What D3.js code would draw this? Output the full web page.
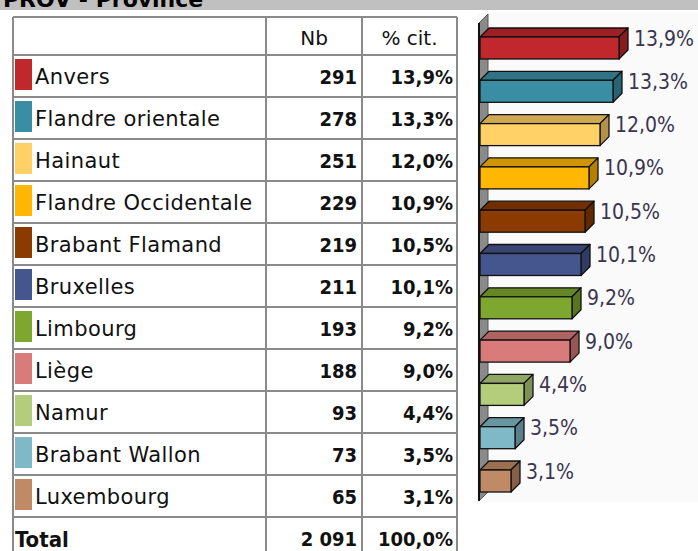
<!DOCTYPE html>
<html><head><meta charset="utf-8">
<script src="https://cdn.jsdelivr.net/npm/d3@7"></script>
<style>body{margin:0;background:#fff;}svg{display:block;}</style>
</head><body>
<script>
const title = "PROV - Province";
const categories = ["Anvers","Flandre orientale","Hainaut","Flandre Occidentale","Brabant Flamand","Bruxelles","Limbourg","Liège","Namur","Brabant Wallon","Luxembourg"];
const counts = [291,278,251,229,219,211,193,188,93,73,65];
const percents = [13.9,13.3,12.0,10.9,10.5,10.1,9.2,9.0,4.4,3.5,3.1];
const colors = ["#c1282d","#3a8ea3","#ffd166","#ffb703","#8b3a00","#45568e","#7da72e","#d97b7b","#b3cd7c","#7fb8c7","#c08a66"];
const headers = ["", "Nb", "% cit."];
const totalLabel = "Total", totalCount = "2 091", totalPct = "100,0%";

const W = 698, H = 551;
const svg = d3.select("body").append("svg").attr("width", W).attr("height", H);
const fmtPct = v => v.toFixed(1).replace(".", ",") + "%";

// title band
svg.append("rect").attr("x",0).attr("y",0).attr("width",W).attr("height",10).attr("fill","#c0c0c0");
svg.append("defs").append("clipPath").attr("id","tb").append("rect").attr("x",0).attr("y",0).attr("width",W).attr("height",10);
svg.append("text").attr("clip-path","url(#tb)").attr("x",3).attr("y",7)
  .attr("font-family","DejaVu Sans").attr("font-weight","bold").attr("font-size",22).attr("fill","#000").text(title);

// ---- table ----
const colX = [13, 266, 362, 457];
const rowY = d3.scaleLinear().domain([0,1]).range([55, 97]); // row i top
const headerTop = 17;
const nRows = categories.length;
const tableBottom = 560;
const lineColor = "#8a8a8a";
const tbl = svg.append("g");

tbl.append("text").attr("x",(colX[1]+colX[2])/2).attr("y",38).attr("dy","0.35em").attr("text-anchor","middle")
  .attr("font-family","DejaVu Sans").attr("font-size",20).attr("fill","#111").text(headers[1]);
tbl.append("text").attr("x",(colX[2]+colX[3])/2).attr("y",38).attr("dy","0.35em").attr("text-anchor","middle")
  .attr("font-family","DejaVu Sans").attr("font-size",20).attr("fill","#111").text(headers[2]);

const rows = tbl.selectAll("g.row").data(categories).join("g").attr("class","row")
  .attr("transform",(d,i)=>`translate(0,${rowY(i)})`);
rows.append("rect").attr("x",15).attr("y",4).attr("width",17).attr("height",31)
  .attr("fill",(d,i)=>colors[i]);
rows.append("text").attr("x",35).attr("y",22).attr("dy","0.35em")
  .attr("font-family","DejaVu Sans").attr("font-size",21).attr("letter-spacing",0.4).attr("fill","#111").text(d=>d);
rows.append("text").attr("x",357).attr("y",22).attr("dy","0.35em").attr("text-anchor","end")
  .attr("font-family","DejaVu Sans Condensed").attr("font-weight","bold").attr("font-size",20).attr("fill","#111").text((d,i)=>counts[i]);
rows.append("text").attr("x",453).attr("y",22).attr("dy","0.35em").attr("text-anchor","end")
  .attr("font-family","DejaVu Sans Condensed").attr("font-weight","bold").attr("font-size",20).attr("fill","#111").text((d,i)=>fmtPct(percents[i]));

const tY = rowY(nRows) + 22;
tbl.append("text").attr("x",15).attr("y",tY).attr("dy","0.35em")
  .attr("font-family","DejaVu Sans Condensed").attr("font-weight","bold").attr("font-size",22).attr("fill","#111").text(totalLabel);
tbl.append("text").attr("x",357).attr("y",tY).attr("dy","0.35em").attr("text-anchor","end")
  .attr("font-family","DejaVu Sans Condensed").attr("font-weight","bold").attr("font-size",20).attr("fill","#111").text(totalCount);
tbl.append("text").attr("x",453).attr("y",tY).attr("dy","0.35em").attr("text-anchor","end")
  .attr("font-family","DejaVu Sans Condensed").attr("font-weight","bold").attr("font-size",20).attr("fill","#111").text(totalPct);

const hl = [headerTop].concat(d3.range(nRows+1).map(i=>rowY(i)));
tbl.selectAll("line.h").data(hl).join("line").attr("class","h")
  .attr("x1",colX[0]).attr("x2",colX[3]).attr("y1",d=>d).attr("y2",d=>d)
  .attr("stroke",lineColor).attr("stroke-width",2);
tbl.selectAll("line.v").data(colX).join("line").attr("class","v")
  .attr("x1",d=>d).attr("x2",d=>d).attr("y1",headerTop).attr("y2",tableBottom)
  .attr("stroke",lineColor).attr("stroke-width",2);

// ---- 3D bar chart ----
const panel = {x:477, y:13, w:W-477, h:489};
svg.append("rect").attr("x",panel.x).attr("y",panel.y).attr("width",panel.w).attr("height",panel.h).attr("fill","#fafafa");

const x0 = 480;
const x = d3.scaleLinear().domain([0,1]).range([x0, x0+10]);
const y = d3.scalePoint().domain(categories).range([37, 470]);
const bh = 22, dep = 9;

const wallTop = 14, wallBot = 501;
svg.append("path").attr("d",`M${x0-1},${wallTop+dep}L${x0-1+dep},${wallTop}L${x0-1+dep},${wallBot-dep}L${x0-1},${wallBot}Z`)
  .attr("fill","#8a8a8a").attr("stroke","#555").attr("stroke-width",1);
svg.append("line").attr("x1",x0-1).attr("x2",x0-1).attr("y1",wallTop+dep).attr("y2",wallBot)
  .attr("stroke","#111").attr("stroke-width",2);

const bars = svg.selectAll("g.bar").data(categories).join("g").attr("class","bar");
bars.each(function(c,i){
  const g = d3.select(this);
  const yt = y(c), x1 = x(percents[i]);
  const base = d3.color(colors[i]);
  const top = base.darker(0.6), side = base.darker(1.0);
  g.append("path").attr("d",`M${x0},${yt}L${x0+dep},${yt-dep}L${x1+dep},${yt-dep}L${x1},${yt}Z`)
    .attr("fill",top).attr("stroke","#111").attr("stroke-width",1.3).attr("stroke-linejoin","round");
  g.append("path").attr("d",`M${x1},${yt}L${x1+dep},${yt-dep}L${x1+dep},${yt+bh-dep}L${x1},${yt+bh}Z`)
    .attr("fill",side).attr("stroke","#111").attr("stroke-width",1.3).attr("stroke-linejoin","round");
  g.append("rect").attr("x",x0).attr("y",yt).attr("width",x1-x0).attr("height",bh)
    .attr("fill",base).attr("stroke","#111").attr("stroke-width",1.3);
  g.append("text").attr("x",x1+dep+6).attr("y",yt+1).attr("dy","0.36em")
    .attr("font-family","DejaVu Sans Condensed").attr("font-size",21).attr("fill","#3a3550").text(fmtPct(percents[i]));
});
</script>
</body></html>
